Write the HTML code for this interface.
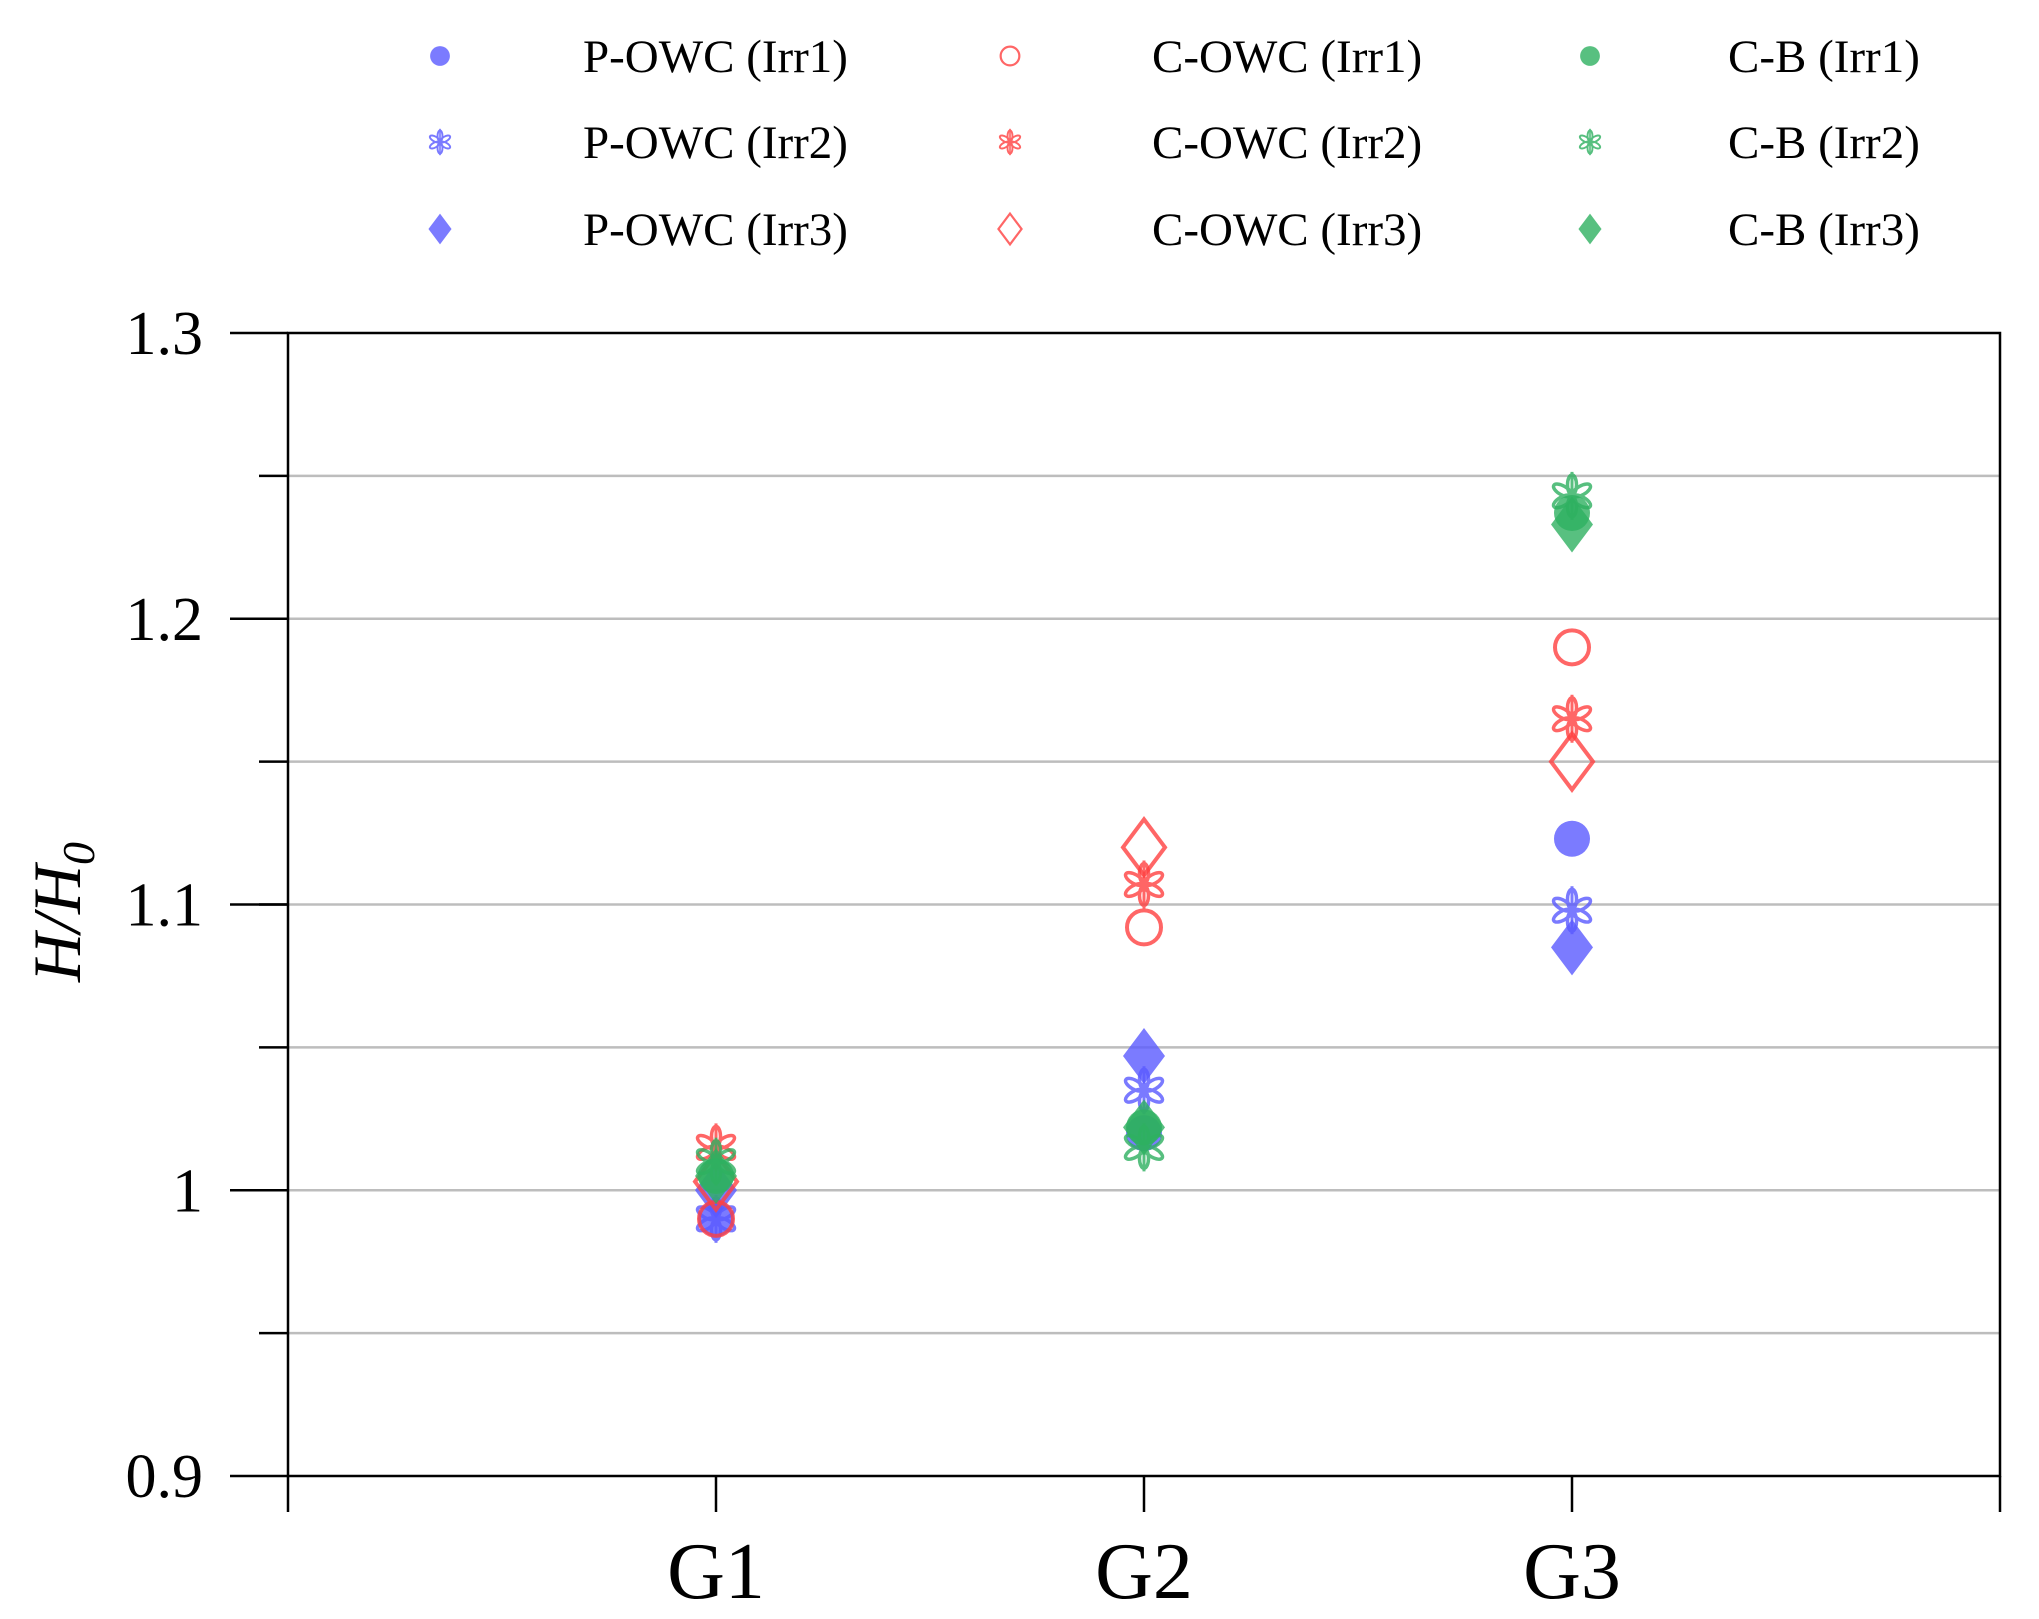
<!DOCTYPE html>
<html><head><meta charset="utf-8"><style>
html,body{margin:0;padding:0;background:#fff;}
svg{display:block;font-family:"Liberation Serif",serif;}
</style></head><body>
<svg id="chart" width="2039" height="1619" viewBox="0 0 2039 1619" xmlns="http://www.w3.org/2000/svg">
<g id="grid"></g>
<g id="axes"></g>
<g id="marks"></g>
<g id="legend"></g>
<text transform="translate(80,912) rotate(-90)" text-anchor="middle" font-size="68" font-style="italic">H/H<tspan font-size="46" dy="14">0</tspan></text>
</svg>
<script>
const categories = ["G1","G2","G3"];
const seriesNames = ["P-OWC (Irr1)","P-OWC (Irr2)","P-OWC (Irr3)","C-OWC (Irr1)","C-OWC (Irr2)","C-OWC (Irr3)","C-B (Irr1)","C-B (Irr2)","C-B (Irr3)"];
const pOwcIrr1 = [0.99, 1.02, 1.123];
const pOwcIrr2 = [0.99, 1.035, 1.098];
const pOwcIrr3 = [1.0, 1.047, 1.085];
const cOwcIrr1 = [0.99, 1.092, 1.19];
const cOwcIrr2 = [1.015, 1.107, 1.165];
const cOwcIrr3 = [1.003, 1.12, 1.15];
const cbIrr1 = [1.005, 1.022, 1.237];
const cbIrr2 = [1.01, 1.015, 1.243];
const cbIrr3 = [1.005, 1.022, 1.233];
const yTicks = ["0.9","1","1.1","1.2","1.3"];
const yMin = 0.9, yMax = 1.3;

const NS = "http://www.w3.org/2000/svg";
const L = 288, R = 2000, T = 333, B = 1476;
function yPos(v){ return B - (v - yMin)/(yMax - yMin)*(B - T); }
function xPos(i){ return L + (i + 1)*(R - L)/(categories.length + 1); }
function mk(tag, attrs, parent){
  const e = document.createElementNS(NS, tag);
  for (const k in attrs) e.setAttribute(k, attrs[k]);
  parent.appendChild(e); return e;
}
const grid = document.getElementById('grid'), axes = document.getElementById('axes'), marks = document.getElementById('marks'), legend = document.getElementById('legend');

for (let v = 0.95; v < 1.29; v += 0.05) {
  const y = yPos(v);
  const g = mk('line', {x1:L, x2:R, y1:y, y2:y, stroke:'#bdbdbd', 'stroke-width':2.5}, grid);
  
  
  const t = mk('line', {x1:259, x2:L, y1:y, y2:y, stroke:'#000', 'stroke-width':2.5}, axes);
  
  
}
yTicks.forEach(s => {
  const y = yPos(parseFloat(s));
  const t = mk('line', {x1:230, x2:L, y1:y, y2:y, stroke:'#000', 'stroke-width':2.5}, axes);
  
  
  const tx = mk('text', {x:203, y:y+21, 'text-anchor':'end', 'font-size':62}, axes);
  tx.textContent = s;
  
  
});
const fr = mk('path', {d:`M${L},${T}H${R}V${B}H${L}Z`, fill:'none', stroke:'#000', 'stroke-width':2.5}, axes);


for (let i = -1; i <= categories.length; i++) {
  const x = xPos(i);
  const t = mk('line', {x1:x, x2:x, y1:B, y2:B+36, stroke:'#000', 'stroke-width':2.5}, axes);
  
  
}
categories.forEach((c, i) => {
  const tx = mk('text', {x:xPos(i), y:1598, 'text-anchor':'middle', 'font-size':80}, axes);
  tx.textContent = c;
  
  
});

const colors = ['#5a5aff','#ff4040','#2eb060'];
const styles = [
  {shape:'circle', fill:true}, {shape:'star'}, {shape:'diamond', fill:true},
  {shape:'circle', fill:false}, {shape:'star'}, {shape:'diamond', fill:false},
  {shape:'circle', fill:true}, {shape:'star'}, {shape:'diamond', fill:true}
];
function drawMarker(parent, shape, fill, color, cx, cy, s){
  const g = mk('g', {opacity:0.8}, parent);
  if (shape === 'circle') {
    if (fill) mk('circle', {cx, cy, r:18*s, fill:color}, g);
    else mk('circle', {cx, cy, r:17*s, fill:'none', stroke:color, 'stroke-width':4*s}, g);
  } else if (shape === 'diamond') {
    const w = 21*s, h = 28*s;
    const d = `M${cx},${cy-h}L${cx+w},${cy}L${cx},${cy+h}L${cx-w},${cy}Z`;
    if (fill) mk('path', {d, fill:color}, g);
    else mk('path', {d, fill:'none', stroke:color, 'stroke-width':4*s}, g);
  } else {
    for (let k = 0; k < 6; k++) {
      const a = k*Math.PI/3 + Math.PI/2;
      mk('ellipse', {cx:cx + Math.cos(a)*11*s, cy:cy - Math.sin(a)*11*s, rx:4.5*s, ry:10*s, fill:'none', stroke:color, 'stroke-width':3.5*s,
        transform:`rotate(${-k*60} ${cx + Math.cos(a)*11*s} ${cy - Math.sin(a)*11*s})`}, g);
    }
    mk('line', {x1:cx, x2:cx, y1:cy-24*s, y2:cy+24*s, stroke:color, 'stroke-width':3*s}, g);
  }
  return g;
}
const allSeries = [pOwcIrr1,pOwcIrr2,pOwcIrr3,cOwcIrr1,cOwcIrr2,cOwcIrr3,cbIrr1,cbIrr2,cbIrr3];
allSeries.forEach((vals, si) => {
  const st = styles[si], col = colors[Math.floor(si/3)];
  vals.forEach((v, i) => {
    const m = drawMarker(marks, st.shape, st.fill, col, xPos(i), yPos(v), 1);
    
    
  });
});
const lx = [440, 1010, 1590], tx0 = [583, 1152, 1728], ly = [56, 142, 229];
seriesNames.forEach((n, si) => {
  const col = Math.floor(si/3), row = si % 3;
  const g = mk('g', {}, legend);
  
  
  drawMarker(g, styles[si].shape, styles[si].fill, colors[col], lx[col], ly[row], 0.55);
  const t = mk('text', {x:tx0[col], y:ly[row]+16, 'font-size':47}, g);
  t.textContent = n;
});
</script>
</body></html>
